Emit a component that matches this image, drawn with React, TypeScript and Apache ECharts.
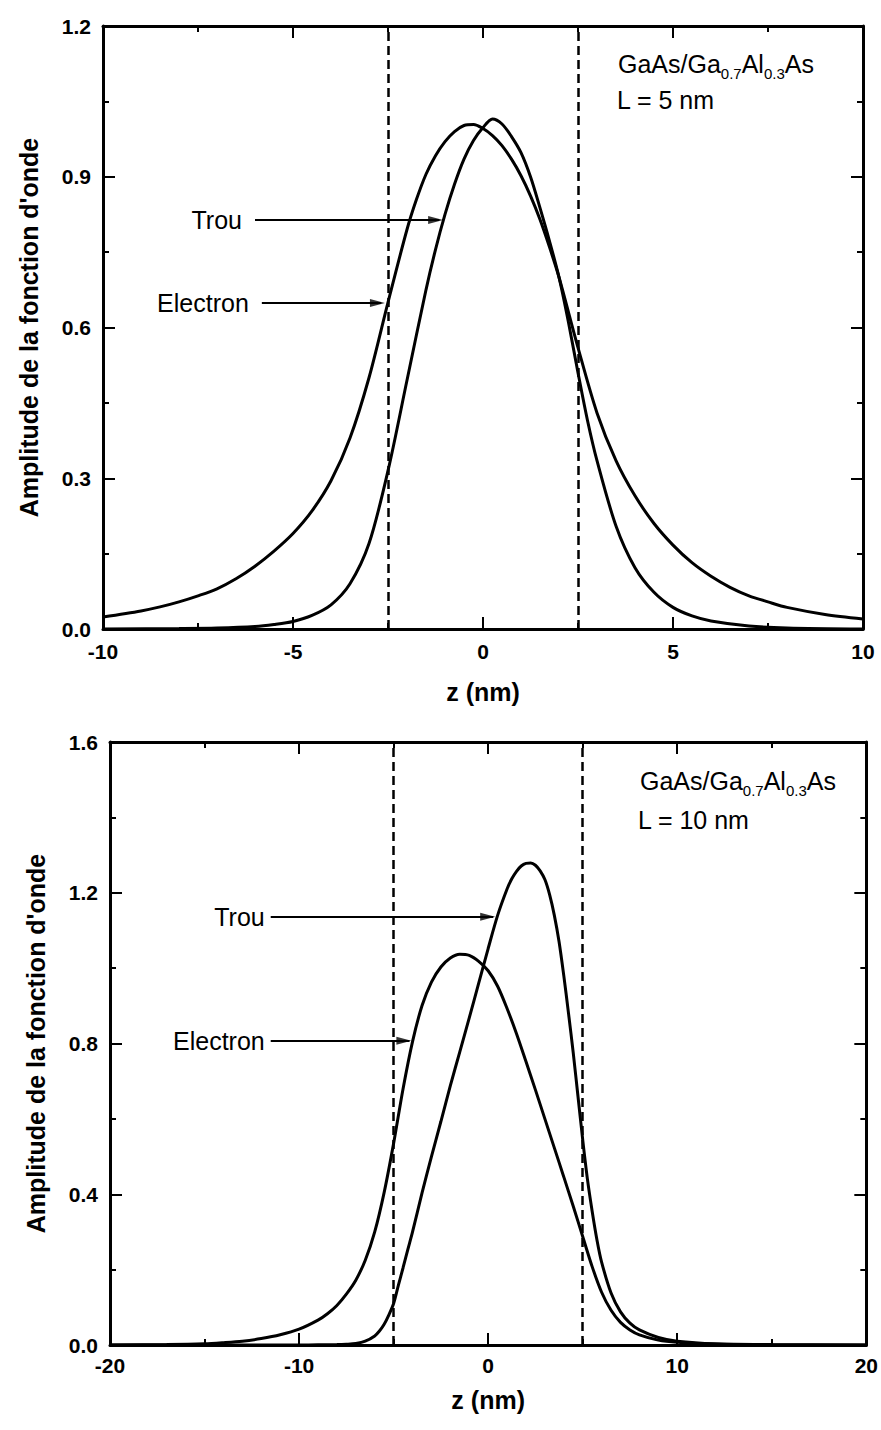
import React, { useEffect, useRef } from "react";
import * as echarts from "echarts";

// ---------- data ----------
// Top panel: L = 5 nm
const TOP_ELECTRON_Z = [-10, -9, -8.5, -8, -7.5, -7, -6.5, -6, -5.5, -5, -4.5, -4, -3.5, -3, -2.5, -2, -1.75, -1.5, -1.25, -1, -0.75, -0.5, -0.25, 0, 0.25, 0.5, 0.75, 1, 1.25, 1.5, 1.75, 2, 2.5, 3, 3.5, 4, 4.5, 5, 5.5, 6, 6.5, 7, 7.5, 8, 9, 10];
const TOP_ELECTRON = [0.024, 0.036, 0.044, 0.054, 0.066, 0.08, 0.1, 0.125, 0.155, 0.19, 0.235, 0.295, 0.38, 0.5, 0.65, 0.795, 0.855, 0.905, 0.942, 0.97, 0.99, 1.002, 1.004, 0.996, 0.982, 0.962, 0.935, 0.902, 0.862, 0.815, 0.76, 0.7, 0.56, 0.43, 0.335, 0.265, 0.21, 0.167, 0.132, 0.105, 0.083, 0.066, 0.054, 0.043, 0.029, 0.02];
const TOP_TROU_Z = [-10, -8, -7, -6, -5.5, -5, -4.5, -4, -3.5, -3, -2.5, -2, -1.5, -1.25, -1, -0.75, -0.5, -0.25, 0, 0.25, 0.5, 0.75, 1, 1.25, 1.5, 1.75, 2, 2.25, 2.5, 2.75, 3, 3.5, 4, 4.5, 5, 5.5, 6, 7, 8, 10];
const TOP_TROU = [0, 0.001, 0.002, 0.005, 0.009, 0.015, 0.027, 0.048, 0.09, 0.17, 0.315, 0.495, 0.675, 0.755, 0.825, 0.885, 0.935, 0.972, 0.998, 1.015, 1.005, 0.98, 0.948, 0.9, 0.838, 0.772, 0.7, 0.61, 0.51, 0.415, 0.335, 0.205, 0.122, 0.073, 0.043, 0.026, 0.016, 0.006, 0.002, 0];
const TOP_WELL = [-2.5, 2.5];
const TOP_X_TICKS = { min: -10, max: 10, interval: 5 };
const TOP_Y_TICKS = { min: 0, max: 1.2, interval: 0.3 };

// Bottom panel: L = 10 nm
const BOT_ELECTRON_Z = [-20, -17, -15, -14, -13, -12, -11, -10, -9, -8.5, -8, -7.5, -7, -6.5, -6, -5.5, -5, -4.5, -4, -3.5, -3, -2.5, -2, -1.5, -1, -0.5, 0, 0.5, 1, 1.5, 2, 2.5, 3, 3.5, 4, 4.5, 5, 5.5, 6, 6.5, 7, 7.5, 8, 9, 10, 12, 15, 20];
const BOT_ELECTRON = [0, 0.001, 0.003, 0.006, 0.01, 0.017, 0.027, 0.042, 0.066, 0.083, 0.105, 0.135, 0.172, 0.225, 0.3, 0.405, 0.535, 0.68, 0.805, 0.9, 0.963, 1.003, 1.027, 1.037, 1.034, 1.018, 0.993, 0.952, 0.893, 0.826, 0.752, 0.677, 0.6, 0.523, 0.446, 0.368, 0.288, 0.208, 0.14, 0.092, 0.06, 0.04, 0.027, 0.013, 0.007, 0.002, 0, 0];
const BOT_TROU_Z = [-20, -10, -9, -8, -7.5, -7, -6.5, -6, -5.75, -5.5, -5.25, -5, -4.75, -4.5, -4.25, -4, -3.5, -3, -2.5, -2, -1.5, -1, -0.5, 0, 0.5, 1, 1.25, 1.5, 1.75, 2, 2.25, 2.5, 2.75, 3, 3.25, 3.5, 3.75, 4, 4.25, 4.5, 4.75, 5, 5.25, 5.5, 5.75, 6, 6.5, 7, 7.5, 8, 9, 10, 12, 15, 20];
const BOT_TROU = [0, 0, 0.0005, 0.001, 0.002, 0.004, 0.01, 0.024, 0.037, 0.055, 0.08, 0.11, 0.158, 0.205, 0.253, 0.3, 0.403, 0.5, 0.593, 0.688, 0.778, 0.868, 0.96, 1.052, 1.14, 1.21, 1.237, 1.257, 1.271, 1.278, 1.279, 1.273, 1.258, 1.235, 1.195, 1.14, 1.07, 0.98, 0.88, 0.775, 0.66, 0.545, 0.44, 0.355, 0.28, 0.22, 0.138, 0.088, 0.058, 0.04, 0.02, 0.01, 0.003, 0.001, 0];
const BOT_WELL = [-5, 5];
const BOT_X_TICKS = { min: -20, max: 20, interval: 10 };
const BOT_Y_TICKS = { min: 0, max: 1.6, interval: 0.4 };

// annotation arrows: [label, startZ, tipZ, value]
const TOP_ARROWS: [string, number, number, number][] = [
  ["Trou", -6.0, -1.05, 0.814],
  ["Electron", -5.82, -2.58, 0.649],
];
const BOT_ARROWS: [string, number, number, number][] = [
  ["Trou", -11.5, 0.37, 1.136],
  ["Electron", -11.5, -4.06, 0.807],
];

const Y_TITLE = "Amplitude de la fonction d'onde";
const X_TITLE = "z (nm)";
const MATERIAL = "{a|GaAs/Ga}{s|0.7}{a|Al}{s|0.3}{a|As}";
const TOP_L = "L = 5 nm";
const BOT_L = "L = 10 nm";

const FONT = "'Liberation Sans', Arial, Helvetica, sans-serif";
const BLACK = "#000";

function zip(z: number[], v: number[]) {
  return z.map((x, i) => [x, v[i]]);
}

// arrow head pointing to the right (tip at the right end)
const ARROW_HEAD = "path://M0,0 L15,4 L0,8 Z";

export default function App() {
  const ref = useRef<HTMLDivElement>(null);

  useEffect(() => {
    if (!ref.current) return;
    const chart = echarts.init(ref.current, undefined, { renderer: "svg" });

    const grids = [
      { left: 103, top: 26, width: 760, height: 603 },
      { left: 110, top: 742, width: 759, height: 603 },
    ];

    const axisLine = { show: true, onZero: false, lineStyle: { color: BLACK, width: 3 } };
    const axisTick = { show: true, inside: true, length: 12, lineStyle: { color: BLACK, width: 2 } };
    const minorTick = { show: true, splitNumber: 2, length: 6, lineStyle: { color: BLACK, width: 2 } };
    const tickLabel = { color: BLACK, fontSize: 21, fontWeight: "bold", fontFamily: FONT };
    const titleStyle = { color: BLACK, fontSize: 25, fontWeight: "bold", fontFamily: FONT };

    const xTicks = [TOP_X_TICKS, BOT_X_TICKS];
    const yTicks = [TOP_Y_TICKS, BOT_Y_TICKS];
    const xMargins = [12, 10];
    const xGaps = [50, 42];

    const xAxis: any[] = [];
    const yAxis: any[] = [];
    [0, 1].forEach((g) => {
      xAxis.push({
        type: "value",
        gridIndex: g,
        position: "bottom",
        ...xTicks[g],
        axisLine,
        axisTick,
        minorTick,
        splitLine: { show: false },
        axisLabel: { ...tickLabel, margin: xMargins[g] },
        name: X_TITLE,
        nameLocation: "middle",
        nameGap: xGaps[g],
        nameTextStyle: titleStyle,
      });
      xAxis.push({
        type: "value",
        gridIndex: g,
        position: "top",
        ...xTicks[g],
        axisLine,
        axisTick,
        minorTick,
        splitLine: { show: false },
        axisLabel: { show: false },
      });
      yAxis.push({
        type: "value",
        gridIndex: g,
        position: "left",
        ...yTicks[g],
        axisLine,
        axisTick,
        minorTick,
        splitLine: { show: false },
        axisLabel: { ...tickLabel, margin: 12, formatter: (v: number) => v.toFixed(1) },
        name: Y_TITLE,
        nameLocation: "middle",
        nameGap: 62,
        nameTextStyle: titleStyle,
      });
      yAxis.push({
        type: "value",
        gridIndex: g,
        position: "right",
        ...yTicks[g],
        axisLine,
        axisTick,
        minorTick,
        splitLine: { show: false },
        axisLabel: { show: false },
      });
    });

    const curve = (name: string, data: number[][], g: number, extra: any = {}) => ({
      name,
      type: "line",
      xAxisIndex: g * 2,
      yAxisIndex: g * 2,
      data,
      showSymbol: false,
      symbol: "none",
      smooth: 0.3,
      lineStyle: { color: BLACK, width: 3 },
      itemStyle: { color: BLACK },
      silent: true,
      ...extra,
    });

    const wellLines = (well: number[]) => ({
      silent: true,
      symbol: ["none", "none"],
      label: { show: false },
      lineStyle: { color: BLACK, width: 2.5, type: [9, 5] },
      data: well.map((x) => ({ xAxis: x })),
    });

    const arrowLines = (list: [string, number, number, number][], dist: number) => ({
      silent: true,
      symbol: ["none", "none"],
      lineStyle: { color: BLACK, width: 2, type: "solid" },
      label: {
        show: true,
        position: "start",
        formatter: "{b}",
        color: BLACK,
        fontSize: 25,
        fontFamily: FONT,
        distance: dist,
      },
      data: list.map(([name, z0, z1, v]) => [
        { name, coord: [z0, v] },
        { coord: [z1 - 0.1, v] },
      ]),
    });

    const arrowHeads = (list: [string, number, number, number][], g: number) => ({
      type: "scatter",
      xAxisIndex: g * 2,
      yAxisIndex: g * 2,
      silent: true,
      symbol: ARROW_HEAD,
      symbolSize: [15, 8],
      symbolOffset: [-7.5, 0],
      itemStyle: { color: BLACK },
      data: list.map(([, , z1, v]) => [z1, v]),
      z: 5,
    });

    const materialText = (x: number, y: number) => ({
      type: "text",
      x,
      y,
      style: {
        text: MATERIAL,
        verticalAlign: "middle",
        fill: BLACK,
        rich: {
          a: { fontSize: 25, fontFamily: FONT, fill: BLACK, verticalAlign: "middle" },
          s: { fontSize: 15, fontFamily: FONT, fill: BLACK, verticalAlign: "middle", padding: [18, 0, 0, 0] },
        },
      },
    });

    const option: any = {
      animation: false,
      backgroundColor: "#fff",
      grid: grids,
      xAxis,
      yAxis,
      series: [
        curve("Electron", zip(TOP_ELECTRON_Z, TOP_ELECTRON), 0, { markLine: wellLines(TOP_WELL) }),
        curve("Trou", zip(TOP_TROU_Z, TOP_TROU), 0, { markLine: arrowLines(TOP_ARROWS, 13) }),
        arrowHeads(TOP_ARROWS, 0),
        curve("Electron", zip(BOT_ELECTRON_Z, BOT_ELECTRON), 1, { markLine: wellLines(BOT_WELL) }),
        curve("Trou", zip(BOT_TROU_Z, BOT_TROU), 1, { markLine: arrowLines(BOT_ARROWS, 6) }),
        arrowHeads(BOT_ARROWS, 1),
      ],
      graphic: [
        materialText(618, 64),
        {
          type: "text",
          x: 617,
          y: 100,
          style: { text: TOP_L, verticalAlign: "middle", fill: BLACK, fontSize: 25, fontFamily: FONT },
        },
        materialText(640, 781),
        {
          type: "text",
          x: 638,
          y: 820,
          style: { text: BOT_L, verticalAlign: "middle", fill: BLACK, fontSize: 25, fontFamily: FONT },
        },
      ],
    };

    chart.setOption(option);
    return () => chart.dispose();
  }, []);

  return (
    <div
      ref={ref}
      style={{ position: "absolute", left: 0, top: 0, width: 881, height: 1430, background: "#fff" }}
    />
  );
}
